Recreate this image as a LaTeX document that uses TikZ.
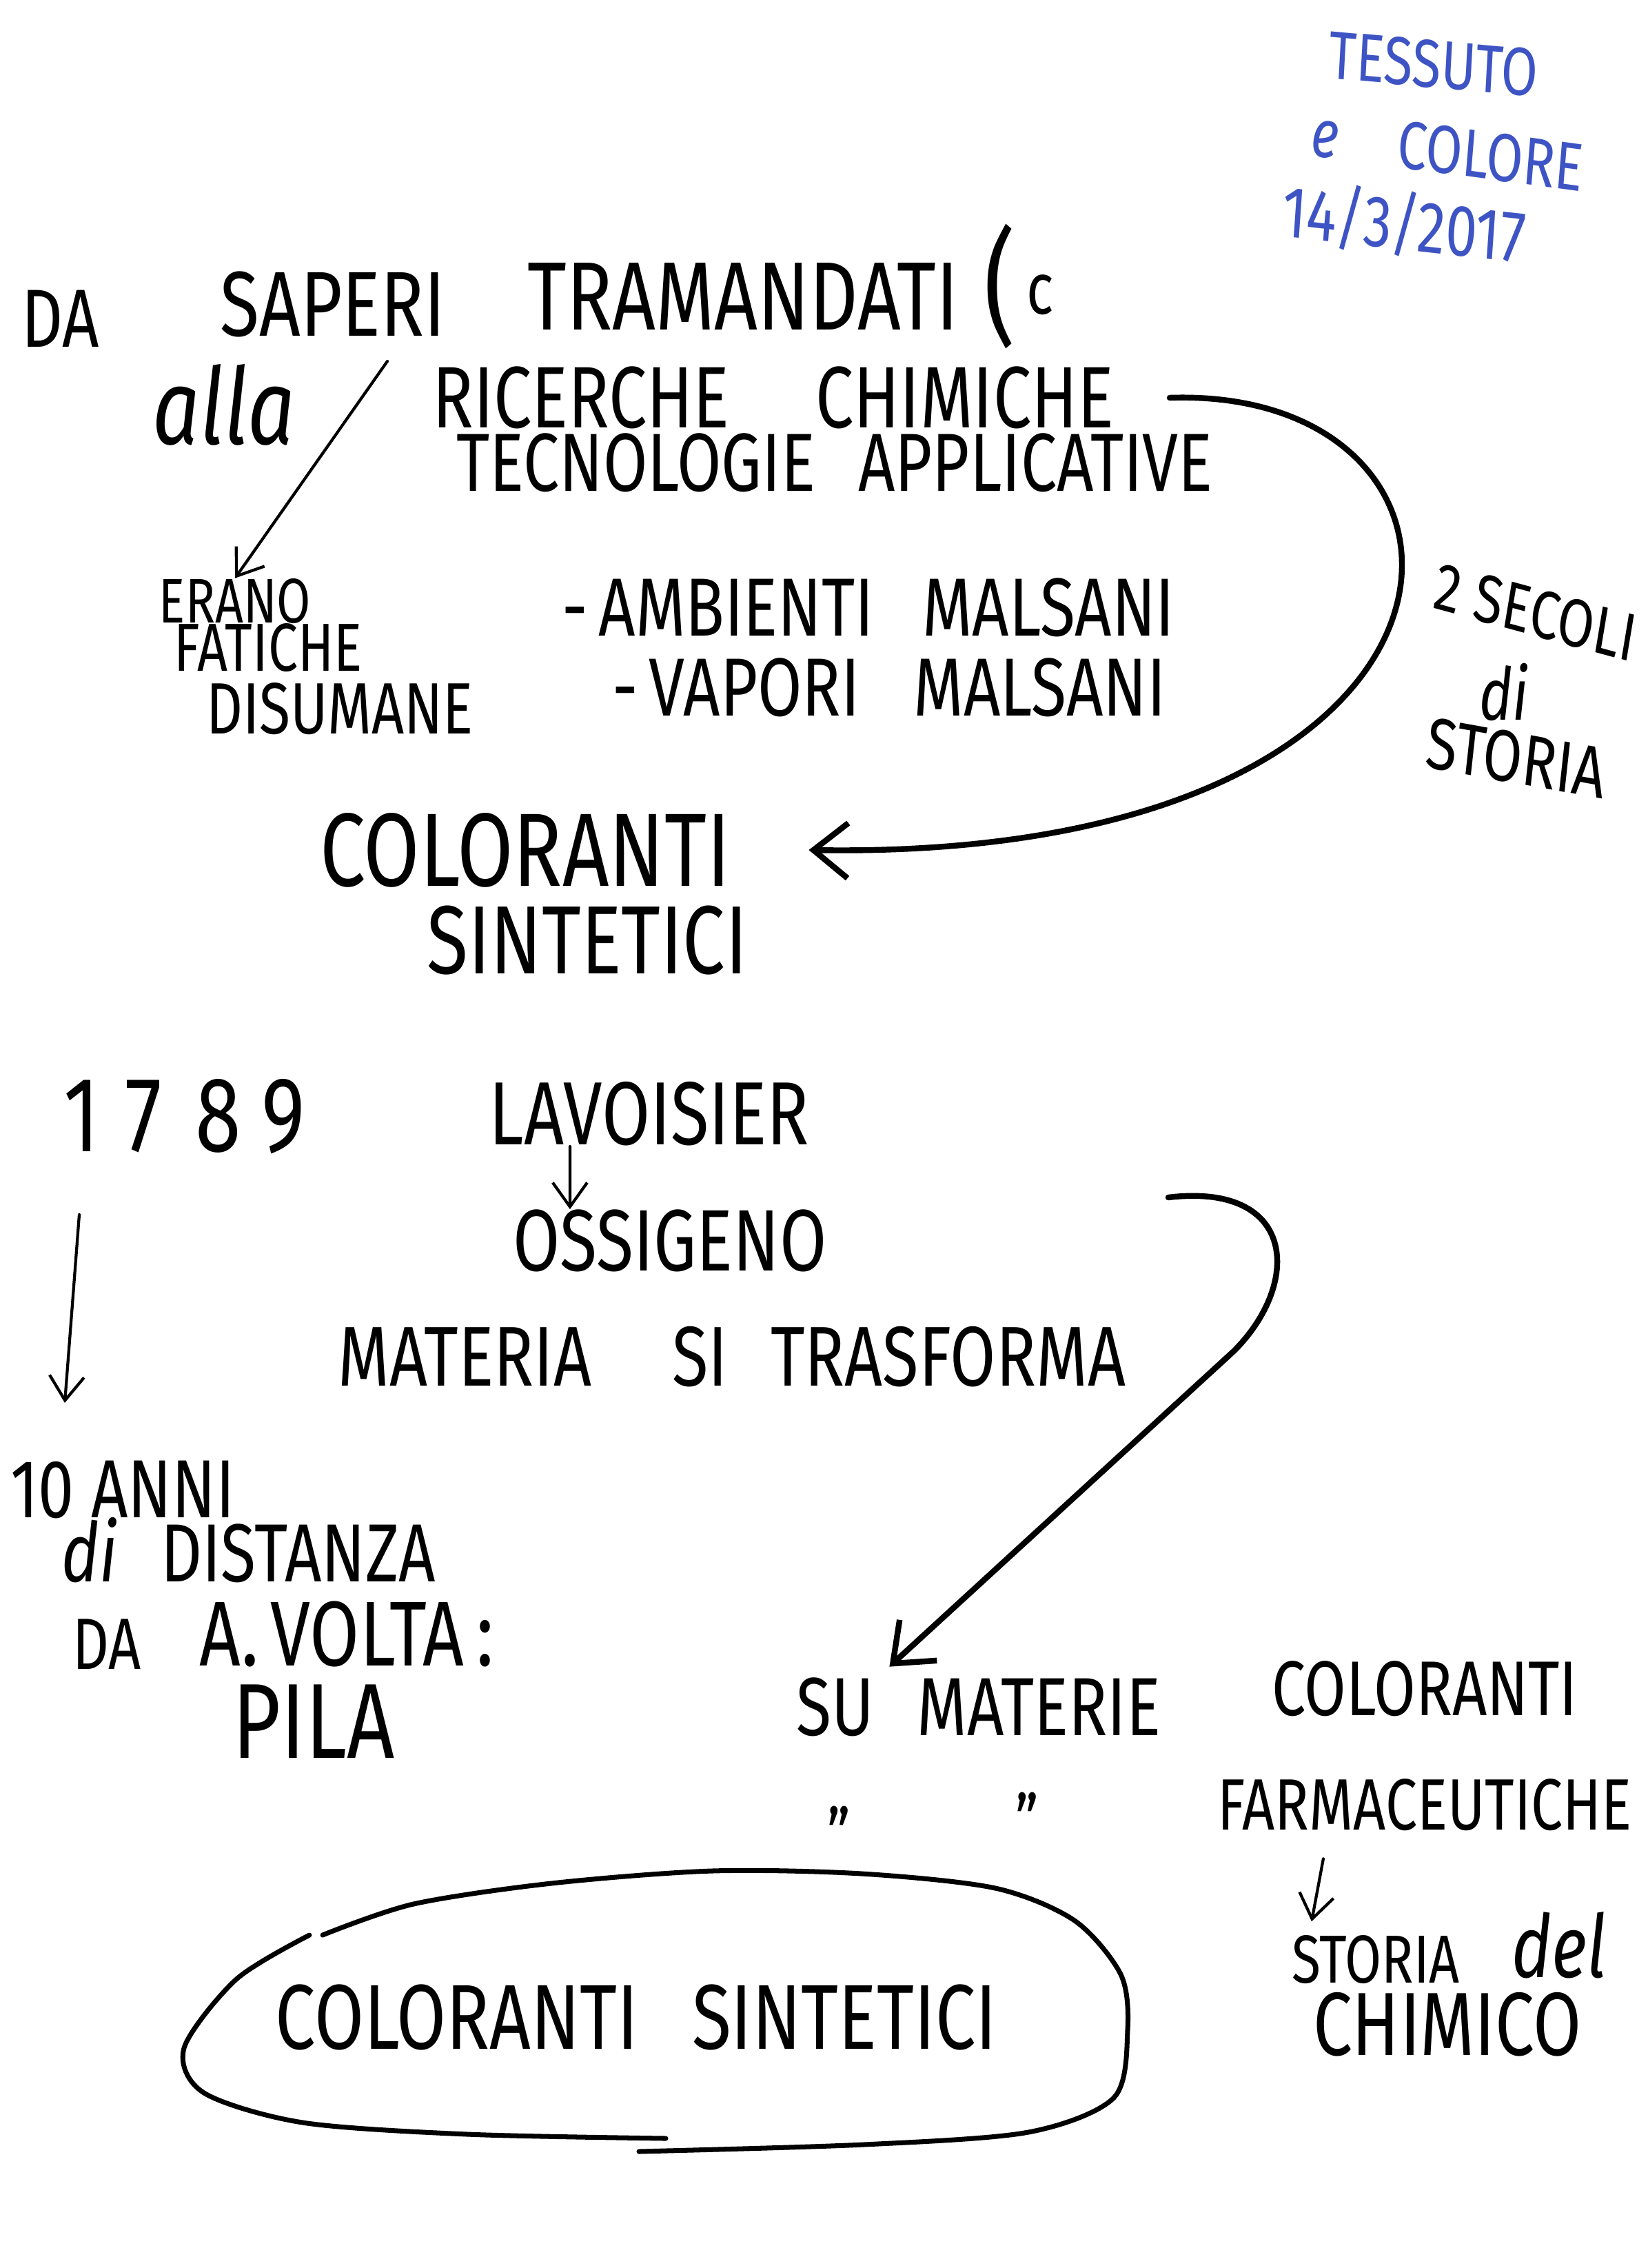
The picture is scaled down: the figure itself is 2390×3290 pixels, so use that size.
\documentclass[tikz,border=0pt]{standalone}
\usepackage{fontspec}
\setmainfont{Fira Sans}
\usetikzlibrary{arrows.meta}
\usetikzlibrary{positioning}
\definecolor{penblue}{RGB}{62,84,196}
\newcommand{\fs}[1]{\fontsize{#1}{#1}\selectfont}
\tikzset{
  hand/.style={inner sep=0pt, xscale=0.78, transform shape, font=\fs{34}},
  note/.style={inner sep=0pt, xscale=0.78, transform shape, text=penblue, font=\fs{28}},
  stroke/.style={line width=2.4pt, line cap=round, line join=round},
  hair/.style={line width=1.2pt, line cap=round},
  barb/.style={-{Straight Barb[length=5mm,width=8mm]}},
  smallbarb/.style={-{Straight Barb[length=3.5mm,width=5mm]}}
}

\begin{document}
\begin{tikzpicture}[x=0.01cm,y=-0.01cm]
\fill[white] (0,0) rectangle (2390,3290);
\useasboundingbox (0,0) rectangle (2390,3290);

\node[note, rotate=-4] (tess) at (2080,93) {TESSUTO};
\node[note, rotate=-6] (ecol) at (2100,218) {\textit{e}\hspace{1.1cm}COLORE};
\node[note, rotate=-5, font=\fs{30}] (date) at (2037,325) {14/3/2017};

\node[hand] (da) at (88,462) {DA};
\node[hand, font=\fs{38}] (saperi) at (483,441) {SAPERI};
\node[hand, font=\fs{40}] (tram) at (1078,430) {TRAMANDATI};
\node[hand] (par) at (1478,415) {{\fs{52}(}\,\raisebox{0.2em}{\fs{30}c}};
\node[hand, font=\fs{44}\itshape] (alla) at (325,587) {alla};
\node[hand, font=\fs{36}] (ric) at (1122,577) {RICERCHE\hspace{1.6cm}CHIMICHE};
\node[hand] (tec) at (1211,671) {TECNOLOGIE\hspace{0.8cm}APPLICATIVE};
\node[hand, font=\fs{26}] (erano) at (341,872) {ERANO};
\node[hand, font=\fs{28}] (fat) at (389,940) {FATICHE};
\node[hand, font=\fs{30}] (dis) at (493,1028) {DISUMANE};
\node[hand] (amb) at (1260,881) {-\,AMBIENTI\hspace{0.9cm}MALSANI};
\node[hand] (vap) at (1290,997) {-\,VAPORI\hspace{1cm}MALSANI};
\node[hand, font=\fs{28}, rotate=-12] (sec) at (2228,888) {2 SECOLI};
\node[hand, font=\fs{30}\itshape] (di1) at (2182,1004) {di};
\node[hand, font=\fs{30}, rotate=-8] (sto1) at (2200,1100) {STORIA};
\node[hand, font=\fs{43}] (colo1) at (762,1233) {COLORANTI};
\node[hand, font=\fs{40}] (sint1) at (852,1364) {SINTETICI};

\node[hand, font=\fs{44}] (year) at (268,1620) {1\kern.3em7\kern.4em8\kern.25em9};
\node[hand, font=\fs{37}] (lav) at (942,1616) {LAVOISIER};
\node[hand, font=\fs{36}] (oss) at (972,1800) {OSSIGENO};
\node[hand, font=\fs{35}] (mat) at (1062,1968) {MATERIA\hspace{1.5cm}SI\hspace{0.8cm}TRASFORMA};
\node[hand] (anni) at (178,2161) {10 ANNI};
\node[hand] (dist) at (361,2249) {\textit{di}\hspace{0.8cm}DISTANZA};
\node[hand, font=\fs{30}] (da2) at (155,2385) {DA};
\node[hand, font=\fs{38}] (volta) at (503,2370) {A.\,VOLTA\,:};
\node[hand, font=\fs{44}] (pila) at (455,2497) {PILA};
\node[hand] (sumat) at (1420,2476) {SU\hspace{0.8cm}MATERIE};
\node[hand, font=\fs{32}] (colo2) at (2067,2450) {COLORANTI};
\node[hand, font=\fs{30}] (dit1) at (1217,2660) {"};
\node[hand, font=\fs{30}] (dit2) at (1490,2640) {"};
\node[hand, font=\fs{30}] (farma) at (2067,2618) {FARMACEUTICHE};
\node[hand, font=\fs{28}] (sto2) at (1996,2843) {STORIA};
\node[hand, font=\fs{36}\itshape] (del) at (2262,2822) {del};
\node[hand, font=\fs{37}] (chim) at (2100,2937) {CHIMICO};
\node[hand, font=\fs{38}] (colo3) at (923,2926) {COLORANTI\hspace{1cm}SINTETICI};

\coordinate (s1) at (562,524);
\coordinate (l1) at (115,1762);
\coordinate (l2) at (94,2035);
\coordinate (h0) at (1695,1737);

\draw[hair, smallbarb] (s1) -- (erano.north);
\draw[stroke, barb] ([xshift=8mm]ric.east) .. controls (2210,560) and (2210,1250) .. ([xshift=1.13cm]colo1.east);
\draw[hair, smallbarb] ([xshift=-1.15cm]lav.south) -- ([xshift=-1.45cm]oss.north);
\draw[hair, smallbarb] (l1) -- (l2);
\draw[stroke, barb] (h0) .. controls (1880,1715) and (1890,1860) .. (1790,1960)
  -- ([xshift=1.35cm,yshift=1.5mm]sumat.north west);
\draw[hair, smallbarb] ([xshift=-1.47cm,yshift=-4mm]farma.south) -- ([xshift=-0.93cm,yshift=2mm]sto2.north);

\draw[stroke, line width=2pt] plot[smooth] coordinates {(468,2807) (600,2762) (800,2732)
  (1033,2714) (1250,2718) (1444,2739) (1559,2786) (1626,2864) (1636,2945) (1616,3043)
  (1492,3093) (1253,3111) (927,3121)};
\draw[stroke, line width=2pt] plot[smooth] coordinates {(449,2807) (343,2871) (267,2971)
  (296,3036) (439,3079) (678,3096) (966,3102)};
\end{tikzpicture}
\end{document}
